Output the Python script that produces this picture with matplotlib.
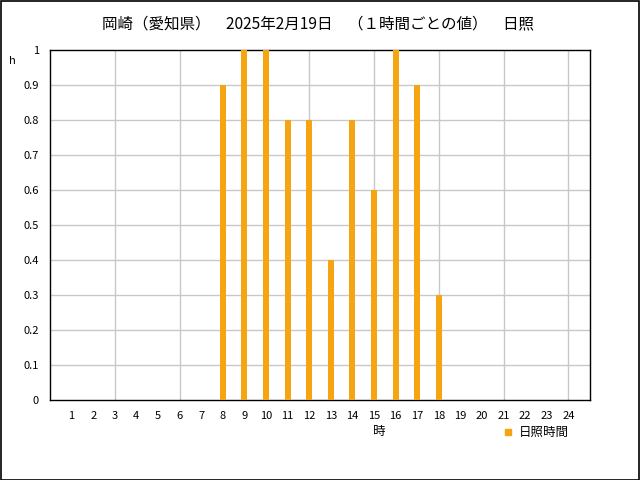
import matplotlib.pyplot as plt
from matplotlib.patches import Rectangle

plt.rcParams['font.family'] = ['Noto Sans CJK JP', 'DejaVu Sans']

hours = list(range(1, 25))
sunshine_hours = [8, 9, 10, 11, 12, 13, 14, 15, 16, 17, 18]
sunshine = [0.9, 1.0, 1.0, 0.8, 0.8, 0.4, 0.8, 0.6, 1.0, 0.9, 0.3]
y_ticks = [0, 0.1, 0.2, 0.3, 0.4, 0.5, 0.6, 0.7, 0.8, 0.9, 1]
y_labels = ['0', '0.1', '0.2', '0.3', '0.4', '0.5', '0.6', '0.7', '0.8', '0.9', '1']
grid_x = [3, 6, 9, 12, 15, 18, 21, 24]

bar_color = '#f5a511'

fig = plt.figure(figsize=(6.4, 4.8), dpi=100)
ax = fig.add_axes([50/640, 1 - 400/480, 540/640, 350/480])

ax.bar(sunshine_hours, sunshine, width=0.28, color=bar_color, zorder=3)

ax.set_xlim(0, 25)
ax.set_ylim(0, 1)
ax.set_yticks(y_ticks)
ax.set_yticklabels(y_labels)
ax.set_xticks(hours)
ax.set_xticklabels([str(h) for h in hours])
ax.tick_params(axis='both', length=0, labelsize=8)
ax.tick_params(axis='x', pad=8)
ax.tick_params(axis='y', pad=8)

for y in y_ticks[1:-1]:
    ax.axhline(y, color='#c8c8c8', lw=1, zorder=1)
for x in grid_x:
    ax.axvline(x, color='#c8c8c8', lw=1, zorder=1)

for s in ax.spines.values():
    s.set_color('black')
    s.set_linewidth(1)

fig.text(318/640, 1 - 24/480, '岡崎（愛知県）　2025年2月19日　（１時間ごとの値）　日照',
         ha='center', va='center', fontsize=11.2)
fig.text(12/640, 1 - 61/480, 'h', ha='center', va='center', fontsize=8)
fig.text(379/640, 1 - 432/480, '時', ha='center', va='center', fontsize=9)

# legend
fig.patches.append(Rectangle((505/640, 1 - 435/480), 6/640, 6/480,
                             transform=fig.transFigure, color=bar_color))
fig.text(519/640, 1 - 432/480, '日照時間', ha='left', va='center', fontsize=9)

# outer border
fig.patches.append(Rectangle((0.5/640, 0.5/480), 638.5/640, 478.5/480,
                             transform=fig.transFigure, fill=False,
                             edgecolor='black', lw=1.2))

fig.savefig('out.png', dpi=100)
